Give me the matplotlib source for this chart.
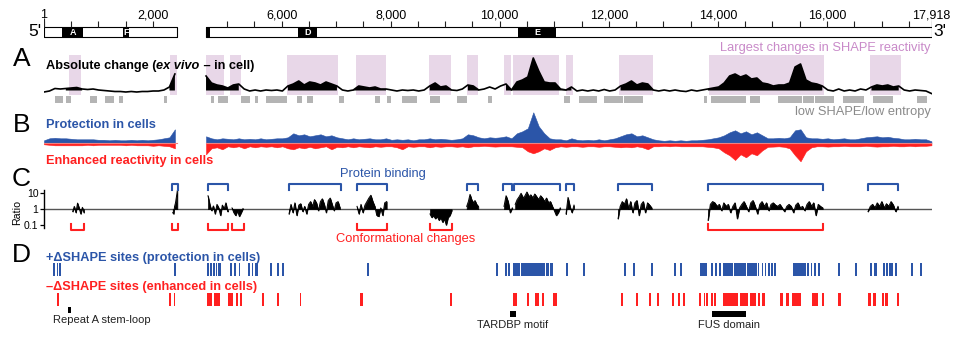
import numpy as np
import matplotlib.pyplot as plt

plt.rcParams['font.family'] = ['Liberation Sans', 'DejaVu Sans']

W, H = 959, 337
BLUE = '#2b55a8'
RED = '#ff2020'
PURPLE_BOX = '#e8d7e8'
PURPLE_TXT = '#c98ac9'
GRAY_BAR = '#b4b4b4'
GRAY_TXT = '#8a8a8a'

# genome axis is broken between the two probed segments
XIST_LEN = 17918
SEG1_END = 2446
SEG2_START = 4615
GAP = 526

# --- data (nt positions) ---
domains = ['A', 'F', '', 'D', 'E']
domain_start = [336, 1455, 4615, 6296, 10340]
domain_end = [721, 1565, 4690, 6644, 11031]
tick_labels = [1, 2000, 6000, 8000, 10000, 12000, 14000, 16000, 17918]

# largest changes in SHAPE reactivity
box_start = [459, 2311, 4614, 5054, 6094, 7365, 8703, 9394, 10078, 10243, 11215, 12188, 13833, 16788]
box_end = [679, 2446, 4950, 5250, 7040, 7909, 9101, 9602, 10206, 11086, 11348, 12806, 15951, 17351]

# low SHAPE / low entropy
lowss_start = [203, 399, 844, 1119, 1376, 2207, 4700, 4840, 5251, 5513, 5714, 6277, 6472, 7053,
               7713, 7927, 8202, 8721, 9211, 9790, 11184, 11453, 11911, 12278, 13751, 13874,
               14589, 15097, 15555, 15781, 16289, 16849, 17656]
lowss_end = [355, 491, 978, 1284, 1455, 2251, 4766, 5023, 5421, 5573, 6105, 6369, 6571, 7145,
             7805, 8001, 8477, 8905, 9394, 9852, 11288, 11778, 12254, 12621, 13795, 14510,
             14772, 15537, 15763, 16130, 16680, 17205, 17839]

# signals sampled every 100 nt in each segment
seg1_pos = np.arange(1, SEG1_END + 1, 100)
seg2_pos = np.arange(SEG2_START, XIST_LEN + 2, 100)

abs_seg1 = [3, 4, 6.5, 6, 6.5, 7, 7.5, 6, 5.5, 6, 5, 4.5, 4, 3.5, 3.5, 3, 3.5, 3, 3.5, 3.5,
            4, 4, 5, 8, 21]
abs_seg2 = [19, 12, 10, 9, 7, 10, 11, 6, 4, 5,
            4, 5, 4.5, 5, 4, 9, 11, 14, 10, 13,
            12, 10, 13, 11, 9, 5, 4, 5, 9, 8,
            7, 8, 6, 6, 5, 4, 5, 4.5, 5, 4,
            5, 9, 12, 8, 9, 5, 4.5, 6, 10, 9,
            5, 6, 8, 6, 9, 11, 5, 13, 15, 18,
            37, 24, 13, 12, 12, 6, 5, 8, 4, 5,
            4, 5, 4, 5.5, 4, 5, 9, 11, 14, 10,
            12, 11, 5, 4, 5, 4, 5, 4, 3.5, 5,
            4, 5, 6, 7, 8, 12, 19, 21, 18, 20,
            16, 17, 12, 11, 9, 10, 10, 12, 28, 31,
            15, 12, 11, 9, 5, 4, 6, 4, 5, 4,
            6, 5, 8, 10, 9, 10, 8, 9, 5, 4,
            5, 4.5, 4, 1.5]

prot_seg1 = [3, 5, 5.5, 5, 5, 4.5, 4, 4, 4, 4, 3.5, 3.5, 3, 3.5, 3, 3, 3.5, 3, 3.5, 3,
             3.5, 4, 5, 6, 14]
prot_seg2 = [7, 5, 4, 5, 4.5, 4, 5, 4, 4.5, 4,
             5, 4, 4.5, 5, 5, 6, 10, 8, 9, 7,
             8, 9, 7, 8, 6, 5, 4, 5, 4, 4.5,
             5, 4, 4, 5, 3.5, 4, 3.5, 4, 3, 4,
             4, 5, 4, 4.5, 4, 3.5, 4, 5, 9, 8,
             6, 5, 6, 5.5, 6, 7, 5, 10, 12, 15,
             31, 17, 10, 5, 4, 4, 3, 5, 3.5, 3,
             3.5, 3, 4, 3, 4, 5, 7, 9, 10, 7,
             8, 6, 4, 3, 2.5, 3, 2.5, 3, 2.5, 3,
             3, 3.5, 4, 5, 6, 8, 11, 13, 10, 12,
             9, 11, 8, 5, 5, 5.5, 5, 6, 13, 14,
             6, 5, 5, 4.5, 5, 4, 4.5, 5, 4, 4,
             5, 6, 6.5, 7, 6, 6.5, 5.5, 5, 4, 4,
             4.5, 4, 4, 2]

enh_seg1 = [1, 1.5, 2, 2, 2, 2, 2, 2, 1.5, 2, 1.5, 1.5, 1.5, 1.5, 1.5, 2, 1.5, 2, 2, 2,
            2.5, 2, 2.5, 3, 5]
enh_seg2 = [11, 5, 4, 6, 3, 4, 3, 5, 3, 4,
            3, 3.5, 3, 4, 3, 5, 6, 4, 5, 3.5,
            5, 4, 3, 6, 3.5, 4, 3, 4, 3, 3.5,
            4, 3, 3.5, 3, 3, 4, 6, 3, 3.5, 3,
            3, 4, 3, 3.5, 3, 3, 3.5, 3, 4, 3,
            3, 2.5, 3, 3.3, 3, 3, 3, 3.5, 4, 8,
            10, 8, 5, 6.7, 4, 3, 3.5, 3, 3, 3.5,
            3, 3, 3.5, 3, 3, 3.5, 4, 3.5, 4, 3,
            4, 6, 3, 3, 2.5, 3, 2.5, 3, 3, 3,
            3, 3, 3.5, 4, 5, 9, 12, 16.7, 11, 14,
            10, 12, 7, 3.5, 3.3, 3, 3.5, 5, 12, 18,
            8, 4, 3, 3, 3.3, 3, 3, 2.5, 3, 3,
            3, 2.5, 3, 3.3, 3, 3, 2.5, 3, 3, 2.5,
            3, 2.5, 2.5, 2]

# ratio (in cell / ex vivo) in selected regions
ratio_start = [527, 2361, 4651, 5091, 6136, 7383, 8721, 9394, 10078, 10283, 11215, 12169, 13820, 16752]
ratio_end = [734, 2446, 5012, 5293, 7071, 7927, 9119, 9607, 10230, 11109, 11361, 12787, 15922, 17302]
ratio_vals = [
    [0.7, 1.5, 0.6, 2.4, 1.2, 0.5, 1.3, 0.6],
    [0.6, 0.5, 1.5, 2.5, 6, 15],
    [7, 2, 0.8, 1.6, 0.5, 2, 1.2, 0.4, 1.8, 1, 2.5, 0.7],
    [1.2, 0.6, 0.4, 0.8, 0.35, 0.6, 1.1],
    [0.5, 2, 0.6, 2.5, 0.4, 1.8, 2.2, 0.7, 1.5, 0.5, 2, 3, 1.5, 4, 2.5, 0.8, 3, 4.5, 2, 0.6,
     3.5, 5, 2, 0.8, 2.5, 3, 1.2],
    [1.5, 0.5, 2, 0.6, 1.8, 3, 5, 7.5, 3, 1.5, 0.4, 0.35, 1.2, 0.4, 2.5, 3],
    [0.5, 0.3, 0.4, 0.25, 0.35, 0.2, 0.3, 0.15, 0.25, 0.1, 0.3, 0.4, 0.8],
    [1.5, 3, 8.5, 4, 2.5, 3.5, 2, 1.5],
    [1.5, 7, 3, 0.6, 1.2],
    [2, 4, 6, 10, 5, 7, 12, 6, 8, 5, 9, 6, 4, 7, 5, 3, 5, 2.5, 3, 1.5, 0.8, 0.4, 0.6, 1.2],
    [0.5, 5.5, 1.5, 0.6, 1.8],
    [0.25, 1.5, 3, 2, 4.5, 1, 3, 0.6, 2.5, 3.5, 0.4, 2, 3, 0.6, 2.5, 1.8, 1.2],
    [0.2, 2, 3, 2.5, 1.5, 2, 0.8, 2.5, 1.5, 2, 0.6, 1.5, 2.5, 0.25, 1.2, 2, 3, 1.5, 0.7, 2.5,
     3.5, 1.5, 0.5, 2, 3, 1.5, 2.5, 0.8, 2, 2.5, 1.8, 1.5, 2, 1.2, 0.7, 1.5, 2, 1.5, 0.6, 1.8,
     2.5, 1.2, 1.5, 0.8, 2, 3, 1.5, 2.5, 0.4, 2, 1.5, 1.2],
    [0.7, 1.5, 2, 1.2, 2.5, 1.5, 3, 1.2, 2.2, 1.5, 3, 1.8, 0.7, 1.5],
]

binding = [(2345, 2460), (4651, 5012), (6136, 7084), (7383, 7927), (9394, 9607), (10060, 10225),
           (10262, 11105), (11215, 11361), (12163, 12786), (13820, 15922), (16758, 17308)]
conform = [(496, 734), (2345, 2460), (4651, 5012), (5085, 5311), (7383, 7927), (8721, 9119),
           (13820, 15922)]

# +/- delta SHAPE sites (start, end)
plus_sites = [(170, 200), (232, 262), (282, 312), (2390, 2420),
              (4640, 4670), (4690, 4720), (4745, 4775), (4790, 4820), (4830, 4890),
              (5060, 5090), (5135, 5165), (5215, 5245), (5390, 5420), (5455, 5485), (5515, 5560),
              (5790, 5820), (5920, 5950), (6010, 6040), (7570, 7610),
              (9935, 9965), (10100, 10130), (10160, 10190),
              (10240, 10370), (10390, 10830), (10850, 10900), (10925, 10975),
              (11220, 11250), (11530, 11560), (12280, 12310), (12450, 12480), (12775, 12805),
              (13200, 13230), (13310, 13340), (13680, 13800), (13870, 13910),
              (13950, 13990), (14020, 14050), (14100, 14280), (14300, 14510), (14530, 14710),
              (14730, 14760), (14800, 14830), (14860, 14890), (14920, 14950), (14975, 15010),
              (15020, 15060), (15370, 15610), (15635, 15665), (15700, 15730), (15765, 15800),
              (15840, 15870), (16205, 16235), (16520, 16550), (16790, 16820), (16870, 16920),
              (17030, 17060), (17090, 17120), (17135, 17165), (17175, 17205), (17240, 17280),
              (17545, 17575), (17710, 17740)]
minus_sites = [(245, 275), (2295, 2325), (2380, 2410),
               (4640, 4730), (4760, 4870), (5010, 5110), (5170, 5200), (5240, 5270),
               (5645, 5675), (5920, 5950), (6335, 6365), (7430, 7500), (9090, 9120),
               (10235, 10310), (10500, 10535), (10640, 10720), (10780, 10810), (10975, 11050),
               (12225, 12255), (12500, 12535), (12730, 12765), (12885, 12915),
               (13160, 13190), (13270, 13300), (13365, 13395),
               (13660, 13690), (13740, 13760), (13790, 13820), (13880, 13910), (13925, 13965),
               (14100, 14370), (14400, 14550), (14580, 14700), (14730, 14780), (14810, 14870),
               (15140, 15190), (15250, 15310), (15350, 15530),
               (15730, 15830), (15910, 15950), (16210, 16250),
               (16750, 16800), (16850, 16900), (17000, 17040), (17070, 17120), (17280, 17320)]

features = ['Repeat A stem-loop', 'TARDBP motif', 'FUS domain']
feature_start = [436, 10188, 13897]
feature_end = [491, 10293, 14509]


def fwd(x):
    x = np.asarray(x, dtype=float)
    mid = SEG1_END + (x - SEG1_END) * GAP / (SEG2_START - SEG1_END)
    return np.where(x <= SEG1_END, x,
                    np.where(x >= SEG2_START, x - SEG2_START + SEG1_END + GAP, mid))


def inv(y):
    y = np.asarray(y, dtype=float)
    mid = SEG1_END + (y - SEG1_END) * (SEG2_START - SEG1_END) / GAP
    return np.where(y <= SEG1_END, y,
                    np.where(y >= SEG1_END + GAP, y - SEG1_END - GAP + SEG2_START, mid))


fig = plt.figure(figsize=(W / 100, H / 100), dpi=100)
X0, X1 = 44, 931.6


def add_row(y0, y1):
    ax = fig.add_axes([X0 / W, 1 - y1 / H, (X1 - X0) / W, (y1 - y0) / H])
    ax.set_xscale('function', functions=(fwd, inv))
    ax.set_xlim(1, XIST_LEN)
    ax.patch.set_visible(False)
    for s in ax.spines.values():
        s.set_visible(False)
    ax.set_xticks([])
    ax.set_yticks([])
    return ax


def ftext(x, y, s, **kw):
    kw.setdefault('va', 'baseline')
    return fig.text(x / W, 1 - y / H, s, **kw)


def spans(starts, ends):
    return [(s, e - s) for s, e in zip(starts, ends)]


# frame axis in pixel rows
frame = add_row(0, H)
frame.set_ylim(H, 0)
frame.set_zorder(5)

# --- genome bar ---
frame.broken_barh([(1, SEG1_END - 1), (SEG2_START, XIST_LEN - SEG2_START)], (26.5, 10.2),
                  facecolors='white', edgecolors='black', linewidth=0.8)
frame.broken_barh(spans(domain_start, domain_end), (26.5, 10.2), facecolors='black')
for name, s, e in zip(domains, domain_start, domain_end):
    if name:
        frame.text((s + e) / 2, 32.2, name, color='white', fontsize=6.5, fontweight='bold',
                   ha='center', va='center')
ticks = [1, 500, 1000, 1500, 2000] + list(range(5000, XIST_LEN, 500)) + [XIST_LEN]
frame.vlines(ticks, 20.5, 26.5, color='#222222', linewidth=0.8)
frame.vlines([1, XIST_LEN], 18, 26.5, color='#222222', linewidth=0.8)
for t in tick_labels:
    frame.text(t, 18.5, f'{t:,}', fontsize=9, ha='center', va='baseline')
ftext(28, 36.5, "5'", fontsize=12.5)
ftext(933.5, 36.5, "3'", fontsize=12.5)

# --- A: absolute change ---
axa = add_row(55, 95)
axa.set_ylim(0, 40)
for s, e in zip(box_start, box_end):
    axa.axvspan(s, e, color=PURPLE_BOX, linewidth=0)
for pos, vals in [(seg1_pos, abs_seg1), (seg2_pos, abs_seg2)]:
    vals = np.array(vals)
    inside = np.zeros(len(pos), bool)
    for s, e in zip(box_start, box_end):
        inside |= (pos >= s - 60) & (pos <= e + 60)
    axa.fill_between(pos, 4.5, vals, where=inside & (vals > 4.5), color='black', linewidth=0)
    axa.plot(pos, vals, color='black', linewidth=1.2)
frame.broken_barh(spans(lowss_start, lowss_end), (96, 7), facecolors=GRAY_BAR)

ftext(13, 66, 'A', fontsize=19)
t1 = ftext(46, 69, 'Absolute change (', fontsize=9.2, fontweight='bold')
r = fig.canvas.get_renderer()
bb = t1.get_window_extent(r)
t2 = fig.text(bb.x1 / W, 1 - 69 / H, 'ex vivo', fontsize=9.2, fontweight='bold',
              style='italic', va='baseline')
bb = t2.get_window_extent(r)
fig.text(bb.x1 / W, 1 - 69 / H, ' \u2013 in cell)', fontsize=9.2, fontweight='bold',
         va='baseline')
ftext(931, 50.5, 'Largest changes in SHAPE reactivity', fontsize=9.3, color=PURPLE_TXT, ha='right')
ftext(931, 114.5, 'low SHAPE/low entropy', fontsize=9.3, color=GRAY_TXT, ha='right')

# --- B: protection / enhancement ---
axb = add_row(110, 165)
axb.set_ylim(-21.7, 33.3)
for pos, up, down in [(seg1_pos, prot_seg1, enh_seg1), (seg2_pos, prot_seg2, enh_seg2)]:
    axb.fill_between(pos, 0, up, color=BLUE, linewidth=0.4, edgecolor=BLUE)
    axb.fill_between(pos, 0, -np.array(down), color=RED, linewidth=0.4, edgecolor=RED)
axb.plot([1, SEG1_END], [0, 0], color='#f08080', linewidth=0.8)
axb.plot([SEG2_START, XIST_LEN], [0, 0], color='#f08080', linewidth=0.8)
ftext(12.5, 131.5, 'B', fontsize=19)
ftext(46, 128, 'Protection in cells', fontsize=9.2, fontweight='bold', color=BLUE)
ftext(46, 163.5, 'Enhanced reactivity in cells', fontsize=9.2, fontweight='bold', color=RED)

# --- C: ratio ---
axc = fig.add_axes([X0 / W, 1 - 228 / H, (X1 - X0) / W, 38 / H])
axc.set_xscale('function', functions=(fwd, inv))
axc.set_xlim(1, XIST_LEN)
axc.set_yscale('log')
axc.set_ylim(0.065, 16.1)
axc.patch.set_visible(False)
for side in ['top', 'right', 'bottom']:
    axc.spines[side].set_visible(False)
axc.spines['left'].set_linewidth(1.0)
axc.set_xticks([])
axc.set_yticks([0.1, 1, 10])
axc.set_yticklabels(['0.1', '1', '10'])
axc.yaxis.set_minor_locator(plt.NullLocator())
axc.tick_params(axis='y', labelsize=7.5, length=3, width=0.9, pad=1)
axc.set_ylabel('Ratio', fontsize=7.7, labelpad=0)
axc.yaxis.set_label_coords(-22 / (X1 - X0), 0.42)
axc.axhline(1, color='#555555', linewidth=1.0, zorder=1)
for s, e, vals in zip(ratio_start, ratio_end, ratio_vals):
    pos = np.linspace(s, e, len(vals))
    axc.fill_between(pos, 1, vals, color='black', linewidth=0.5, zorder=2)
    axc.plot(pos, vals, color='black', linewidth=0.7, zorder=2)

for s, e in binding:
    frame.plot([s, s, e, e], [190, 183.5, 183.5, 190], color=BLUE, linewidth=1.5)
for s, e in conform:
    frame.plot([s, s, e, e], [224.3, 230, 230, 224.3], color=RED, linewidth=1.5)
ftext(12, 186, 'C', fontsize=19)
frame.text(7860, 176.7, 'Protein binding', fontsize=9.3, color=BLUE, ha='center', va='baseline')
frame.text(8270, 242.3, 'Conformational changes', fontsize=9.3, color=RED, ha='center',
           va='baseline')

# --- D: sites ---
frame.broken_barh([(s, e - s) for s, e in plus_sites], (263.3, 12.4), facecolors=BLUE)
frame.broken_barh([(s, e - s) for s, e in minus_sites], (293.3, 12.7), facecolors=RED)
ftext(12, 262, 'D', fontsize=19)
ftext(46, 260.7, '+\u0394SHAPE sites (protection in cells)', fontsize=9.2, fontweight='bold',
      color=BLUE)
ftext(46, 289.7, '\u2013\u0394SHAPE sites (enhanced in cells)', fontsize=9.2, fontweight='bold',
      color=RED)

frame.broken_barh([(feature_start[0], feature_end[0] - feature_start[0])], (307, 5.7),
                  facecolors='black')
frame.broken_barh(spans(feature_start[1:], feature_end[1:]), (311, 5.7), facecolors='black')
frame.text(172, 323.3, features[0], fontsize=8, ha='left', va='baseline', color='#222222')
for name, s, e in zip(features[1:], feature_start[1:], feature_end[1:]):
    frame.text((s + e) / 2, 327.7, name, fontsize=8, ha='center', va='baseline', color='#222222')

fig.savefig('out.png', dpi=100)
